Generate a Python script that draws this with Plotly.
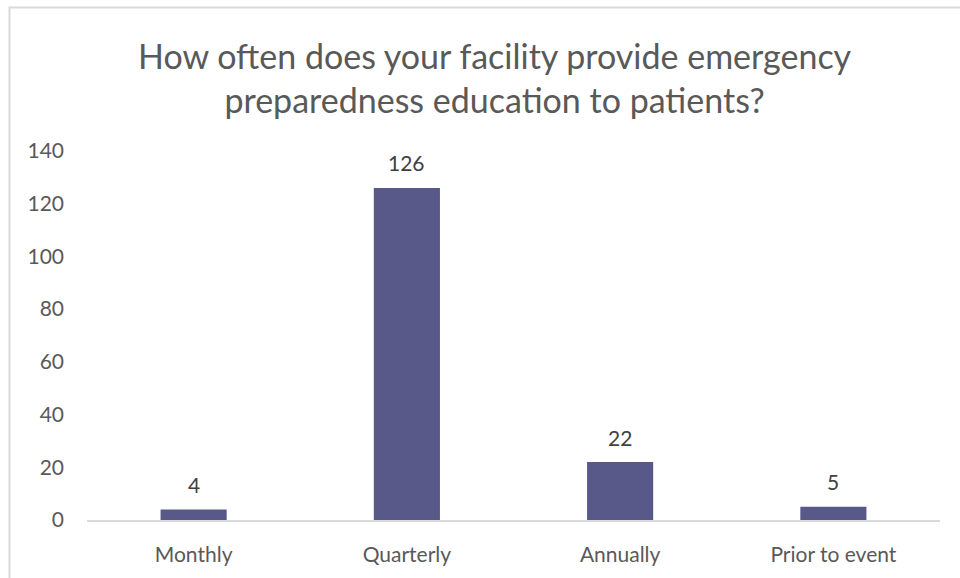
import plotly.graph_objects as go

categories = ["Monthly", "Quarterly", "Annually", "Prior to event"]
values = [4, 126, 22, 5]
y_ticks = [0, 20, 40, 60, 80, 100, 120, 140]
title_text = "How often does your facility provide emergency<br>preparedness education to patients?"

FONT = "Lato, Open Sans, sans-serif"
L, R, T, B = 87, 20, 151, 58
W, H = 960, 578
pw = W - L - R
ph = H - T - B

def px_x(x):
    return (x - L) / pw

def px_y(y):
    return (H - B - y) / ph

fig = go.Figure()
fig.add_trace(go.Bar(
    x=categories, y=values,
    marker=dict(color="#585889", line=dict(width=0)),
    width=0.31,
    hoverinfo="x+y",
))

annotations = [dict(
    x=c, y=v, xref="x", yref="y", text=str(v), showarrow=False,
    xanchor="center", yanchor="middle", yshift=25,
    font=dict(family=FONT, size=21, color="#404040"),
) for c, v in zip(categories, values)]

annotations.append(dict(
    text=title_text, xref="paper", yref="paper",
    x=px_x(495), y=px_y(78), xanchor="center", yanchor="middle",
    showarrow=False,
    font=dict(family=FONT, size=34, color="#595959"),
))

fig.update_layout(
    width=W, height=H,
    margin=dict(l=L, r=R, t=T, b=B),
    paper_bgcolor="white", plot_bgcolor="white",
    showlegend=False,
    font=dict(family=FONT, color="#595959", size=21),
    xaxis=dict(showline=True, linecolor="#d9d9d9", linewidth=1.5, showgrid=False,
               ticks="", tickfont=dict(size=21, color="#595959"), fixedrange=True,
               ticklabelstandoff=15),
    yaxis=dict(range=[0, 140], tickvals=y_ticks, showgrid=False, zeroline=False,
               showline=False, ticks="", tickfont=dict(size=21, color="#595959"),
               fixedrange=True, ticklabelstandoff=22),
    annotations=annotations,
    shapes=[dict(type="rect", xref="paper", yref="paper",
                 x0=px_x(9.5), x1=px_x(1000), y0=px_y(7.5), y1=px_y(700),
                 line=dict(color="#d9d9d9", width=2), layer="below")],
)

fig.write_html("out.html",
               config={"displayModeBar": False},
               post_script="document.body.style.margin='0px';document.body.style.padding='0px';")
